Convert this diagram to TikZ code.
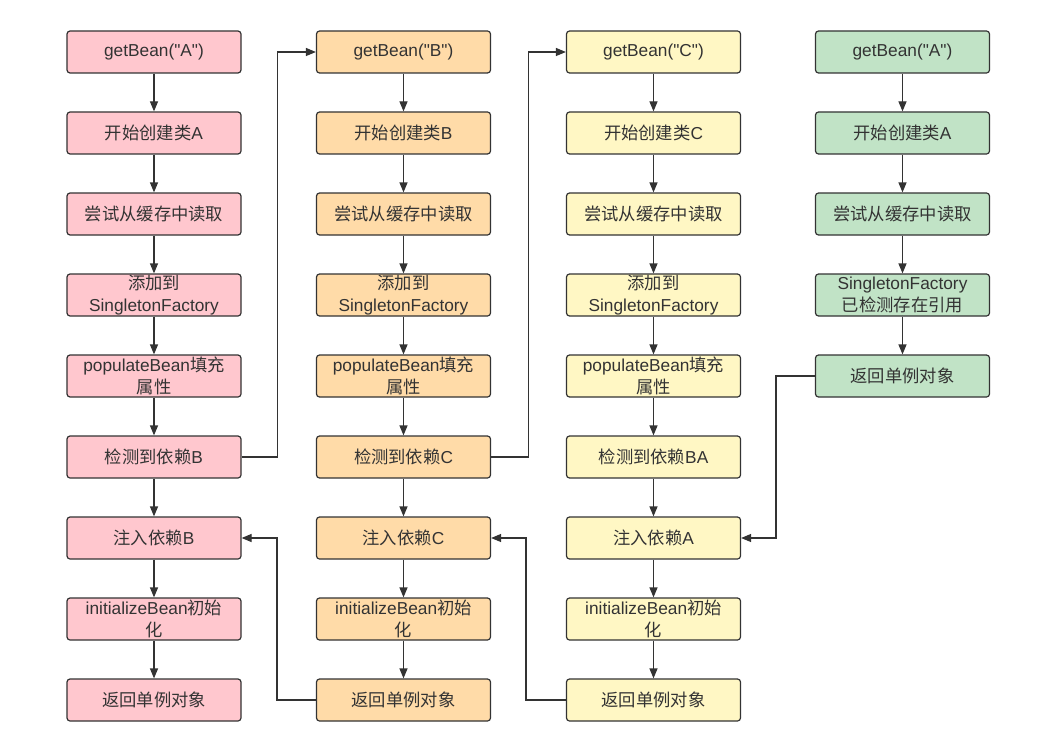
\documentclass[tikz,border=0pt]{standalone}
\usepackage{fontspec}
\setmainfont{Liberation Sans}
\newfontfamily\zhfont{Noto Sans CJK SC}
\newcommand\zh[1]{{\zhfont #1}}
\newcommand\qq{\textquotedbl}
\usetikzlibrary{arrows.meta}
\definecolor{pinkc}{HTML}{FFC7CE}
\definecolor{orangec}{HTML}{FFDBA8}
\definecolor{yellowc}{HTML}{FFF7C4}
\definecolor{greenc}{HTML}{C1E3C6}
\definecolor{linec}{HTML}{333333}
\begin{document}
\begin{tikzpicture}[x=1pt,y=-1pt,
  box/.style={draw=linec, line width=1.2pt, rounded corners=3pt,
    minimum width=174pt, minimum height=42pt, inner sep=1pt, align=center,
    font=\fontsize{17.3}{22}\selectfont, text=linec},
  pk/.style={box, fill=pinkc},
  og/.style={box, fill=orangec},
  yl/.style={box, fill=yellowc},
  gr/.style={box, fill=greenc},
  arr/.style={draw=linec, line width=1.2pt, -{Triangle[length=10pt,width=8pt]}}]
\useasboundingbox (0,0) rectangle (1060,749);
% column 1
\node[pk] (a1) at (154,52) {getBean(\qq A\qq)};
\node[pk] (a2) at (154,133) {\zh{开始创建类}A};
\node[pk] (a3) at (154,214) {\zh{尝试从缓存中读取}};
\node[pk] (a4) at (154,295) {\zh{添加到}\\SingletonFactory};
\node[pk] (a5) at (154,376) {populateBean\zh{填充}\\\zh{属性}};
\node[pk] (a6) at (154,457) {\zh{检测到依赖}B};
\node[pk] (a7) at (154,538) {\zh{注入依赖}B};
\node[pk] (a8) at (154,619) {initializeBean\zh{初始}\\\zh{化}};
\node[pk] (a9) at (154,700) {\zh{返回单例对象}};
% column 2
\node[og] (b1) at (403.5,52) {getBean(\qq B\qq)};
\node[og] (b2) at (403.5,133) {\zh{开始创建类}B};
\node[og] (b3) at (403.5,214) {\zh{尝试从缓存中读取}};
\node[og] (b4) at (403.5,295) {\zh{添加到}\\SingletonFactory};
\node[og] (b5) at (403.5,376) {populateBean\zh{填充}\\\zh{属性}};
\node[og] (b6) at (403.5,457) {\zh{检测到依赖}C};
\node[og] (b7) at (403.5,538) {\zh{注入依赖}C};
\node[og] (b8) at (403.5,619) {initializeBean\zh{初始}\\\zh{化}};
\node[og] (b9) at (403.5,700) {\zh{返回单例对象}};
% column 3
\node[yl] (c1) at (653.5,52) {getBean(\qq C\qq)};
\node[yl] (c2) at (653.5,133) {\zh{开始创建类}C};
\node[yl] (c3) at (653.5,214) {\zh{尝试从缓存中读取}};
\node[yl] (c4) at (653.5,295) {\zh{添加到}\\SingletonFactory};
\node[yl] (c5) at (653.5,376) {populateBean\zh{填充}\\\zh{属性}};
\node[yl] (c6) at (653.5,457) {\zh{检测到依赖}BA};
\node[yl] (c7) at (653.5,538) {\zh{注入依赖}A};
\node[yl] (c8) at (653.5,619) {initializeBean\zh{初始}\\\zh{化}};
\node[yl] (c9) at (653.5,700) {\zh{返回单例对象}};
% column 4
\node[gr] (d1) at (902.5,52) {getBean(\qq A\qq)};
\node[gr] (d2) at (902.5,133) {\zh{开始创建类}A};
\node[gr] (d3) at (902.5,214) {\zh{尝试从缓存中读取}};
\node[gr] (d4) at (902.5,295) {SingletonFactory\\\zh{已检测存在引用}};
\node[gr] (d5) at (902.5,376) {\zh{返回单例对象}};
% vertical arrows
\foreach \c in {a,b,c}{
  \foreach \i [evaluate=\i as \j using int(\i+1)] in {1,...,8}{
    \draw[arr] (\c\i) -- (\c\j);
  }
}
\foreach \i [evaluate=\i as \j using int(\i+1)] in {1,...,4}{
  \draw[arr] (d\i) -- (d\j);
}
% elbow connectors
\draw[arr] (a6.east) -- ++(36,0) |- (b1.west);
\draw[arr] (b6.east) -- ++(37,0) |- (c1.west);
\draw[arr] (b9.west) -- ++(-39,0) |- (a7.east);
\draw[arr] (c9.west) -- ++(-40,0) |- (b7.east);
\draw[arr] (d5.west) -- ++(-39,0) |- (c7.east);
\end{tikzpicture}
\end{document}
